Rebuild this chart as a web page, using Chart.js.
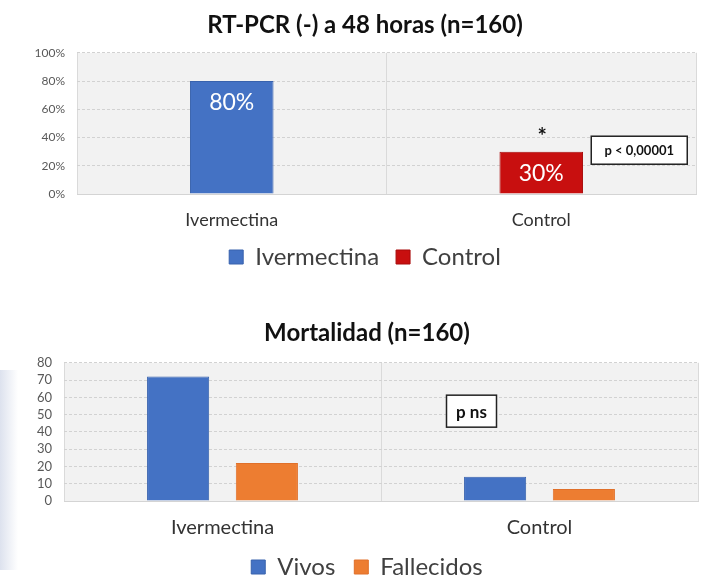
<!DOCTYPE html>
<html>
<head>
<meta charset="utf-8">
<script src="https://cdn.jsdelivr.net/npm/chart.js@4/dist/chart.umd.min.js"></script>
<style>
    html, body { margin: 0; padding: 0; background: #fff; }
    body { width: 711px; height: 585px; position: relative; overflow: hidden; }
    .wrap { position: absolute; left: 0; width: 711px; }
    #pcr-wrap { top: 0; height: 290px; }
    #mort-wrap { top: 290px; height: 300px; }
    .edge {
        position: absolute; left: 0; top: 370px; width: 18px; height: 200px;
        background: linear-gradient(to right, #dde2ee, rgba(255, 255, 255, 0));
    }
</style>
</head>
<body>
<div class="edge"></div>
<div class="wrap" id="pcr-wrap"><canvas id="pcrChart" width="711" height="290"></canvas></div>
<div class="wrap" id="mort-wrap"><canvas id="mortChart" width="711" height="300"></canvas></div>
<script>
// Chart data
const groups = ['Ivermectina', 'Control'];

const pcrIvermectina = [80, null];
const pcrControl = [null, 30];
const pcrTicks = [0, 20, 40, 60, 80, 100];

const mortVivos = [72, 14];
const mortFallecidos = [22, 7];
const mortTicks = [0, 10, 20, 30, 40, 50, 60, 70, 80];

const FONT = 'Lato';

// Light gray plot background
const plotBackground = {
    id: 'plotBackground',
    beforeDraw(chart) {
        const { ctx, chartArea: a } = chart;
        ctx.save();
        ctx.fillStyle = '#f2f2f2';
        ctx.fillRect(a.left, a.top, a.width, a.height);
        ctx.restore();
    }
};

// Percent labels inside the bars of the top chart
const barLabels = {
    id: 'barLabels',
    afterDatasetsDraw(chart) {
        const ctx = chart.ctx;
        ctx.save();
        ctx.fillStyle = '#fff';
        ctx.font = `23px ${FONT}`;
        ctx.textAlign = 'center';
        ctx.textBaseline = 'middle';
        chart.data.datasets.forEach((ds, i) => {
            chart.getDatasetMeta(i).data.forEach((bar, j) => {
                if (ds.data[j] == null) return;
                ctx.fillText(ds.data[j] + '%', bar.x, bar.y + 22);
            });
        });
        ctx.restore();
    }
};

function drawBox(ctx, text, cx, cy, w, h, size) {
    ctx.save();
    ctx.fillStyle = '#fff';
    ctx.strokeStyle = '#222';
    ctx.lineWidth = 1.5;
    ctx.fillRect(cx - w / 2, cy - h / 2, w, h);
    ctx.strokeRect(cx - w / 2, cy - h / 2, w, h);
    ctx.fillStyle = '#111';
    ctx.font = `bold ${size}px ${FONT}`;
    ctx.textAlign = 'center';
    ctx.textBaseline = 'middle';
    ctx.fillText(text, cx, cy + 1);
    ctx.restore();
}

// Significance marks on the top chart
const pcrNotes = {
    id: 'pcrNotes',
    afterDraw(chart) {
        const ctx = chart.ctx;
        const bar = chart.getDatasetMeta(1).data[1];
        ctx.save();
        ctx.fillStyle = '#111';
        ctx.font = `bold 22px ${FONT}`;
        ctx.textAlign = 'center';
        ctx.textBaseline = 'middle';
        ctx.fillText('*', bar.x + 1, bar.y - 15);
        ctx.restore();
        const y = chart.scales.y.getPixelForValue(31);
        drawBox(ctx, 'p < 0,00001', bar.x + 98, y, 96, 28, 13);
    }
};

const mortNotes = {
    id: 'mortNotes',
    afterDraw(chart) {
        const x = chart.scales.x.getPixelForValue(1) - 68;
        const y = chart.scales.y.getPixelForValue(52);
        drawBox(chart.ctx, 'p ns', x, y, 50, 32, 17);
    }
};

function xAxis(fontSize, height) {
    return {
        grid: { color: '#dadada', drawTicks: false, offset: true },
        border: { color: '#d4d4d4' },
        ticks: { color: '#333', font: { family: FONT, size: fontSize }, padding: 15 },
        afterFit: scale => { scale.height = height; }
    };
}

function yAxis(ticks, fontSize, width, padding, fmt) {
    return {
        min: ticks[0],
        max: ticks[ticks.length - 1],
        afterBuildTicks: scale => { scale.ticks = ticks.map(v => ({ value: v })); },
        grid: { color: '#d2d2d2', drawTicks: false },
        border: { display: false, dash: [3, 2] },
        ticks: {
            autoSkip: false,
            color: '#595959',
            font: { family: FONT, size: fontSize },
            padding: padding,
            callback: fmt
        },
        afterFit: scale => { scale.width = width; }
    };
}

function createPcrChart() {
    new Chart(document.getElementById('pcrChart'), {
        type: 'bar',
        data: {
            labels: groups,
            datasets: [
                { label: 'Ivermectina', data: pcrIvermectina, skipNull: true,
                  backgroundColor: '#4472C4', borderColor: '#3862ad', borderWidth: 1 },
                { label: 'Control', data: pcrControl, skipNull: true,
                  backgroundColor: '#C80F0F', borderColor: '#a80b0b', borderWidth: 1 }
            ]
        },
        options: {
            responsive: false,
            animation: false,
            categoryPercentage: 1,
            barPercentage: 0.27,
            layout: { padding: { left: 34, right: 15, top: 0, bottom: 11 } },
            plugins: {
                title: {
                    display: true,
                    text: 'RT-PCR (-) a 48 horas (n=160)',
                    color: '#111',
                    font: { family: FONT, size: 24, weight: 'bold' },
                    padding: { top: 11, bottom: 13 }
                },
                legend: {
                    position: 'bottom',
                    labels: {
                        boxWidth: 14, boxHeight: 14, padding: 17,
                        color: '#404040',
                        font: { family: FONT, size: 24 }
                    }
                },
                tooltip: { enabled: false }
            },
            scales: {
                x: xAxis(18, 34),
                y: yAxis(pcrTicks, 12, 43, 12, v => v + '%')
            }
        },
        plugins: [plotBackground, barLabels, pcrNotes]
    });
}

function createMortChart() {
    new Chart(document.getElementById('mortChart'), {
        type: 'bar',
        data: {
            labels: groups,
            datasets: [
                { label: 'Vivos', data: mortVivos,
                  backgroundColor: '#4472C4', borderColor: '#3862ad', borderWidth: 1 },
                { label: 'Fallecidos', data: mortFallecidos,
                  backgroundColor: '#ED7D31', borderColor: '#e0702a', borderWidth: 1 }
            ]
        },
        options: {
            responsive: false,
            animation: false,
            categoryPercentage: 0.56,
            barPercentage: 0.7,
            layout: { padding: { left: 36, right: 13, top: 0, bottom: 1 } },
            plugins: {
                title: {
                    display: true,
                    text: 'Mortalidad (n=160)',
                    color: '#111',
                    font: { family: FONT, size: 24, weight: 'bold' },
                    padding: { top: 29, bottom: 15 }
                },
                legend: {
                    position: 'bottom',
                    labels: {
                        boxWidth: 14, boxHeight: 14, padding: 19,
                        color: '#404040',
                        font: { family: FONT, size: 24 }
                    }
                },
                tooltip: { enabled: false }
            },
            scales: {
                x: xAxis(20, 35),
                y: yAxis(mortTicks, 13, 28, 12, v => v)
            }
        },
        plugins: [plotBackground, mortNotes]
    });
}

document.addEventListener('DOMContentLoaded', () => {
    createPcrChart();
    createMortChart();
});
</script>
</body>
</html>
